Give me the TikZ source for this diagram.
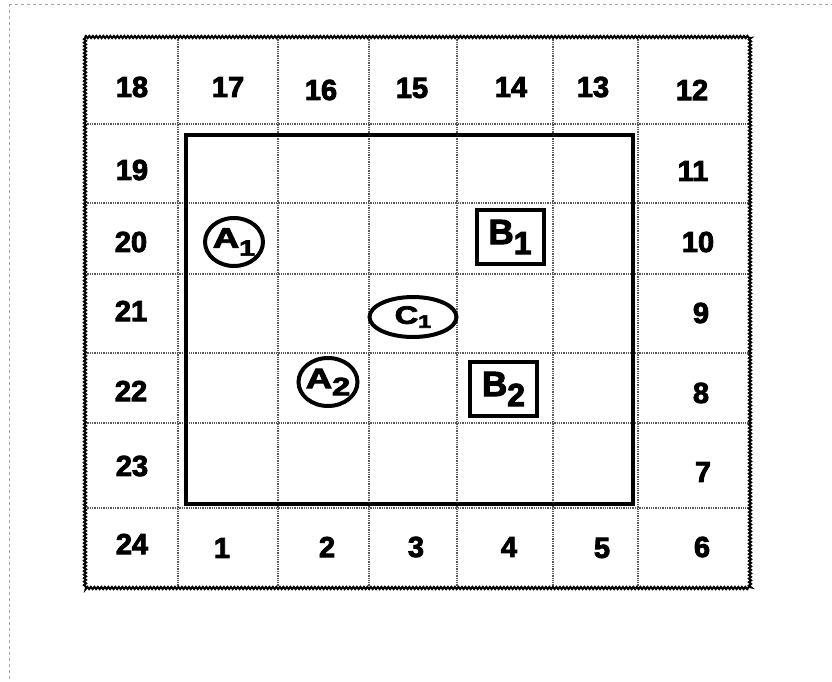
\documentclass[tikz,border=0pt]{standalone}
\usepackage{fontspec}
\setmainfont{Liberation Sans}
\newfontfamily\heavyfont[FakeBold=3]{Liberation Sans Bold}
\usetikzlibrary{decorations.pathmorphing,shapes.geometric}
\newcommand\wideit[1]{\scalebox{1.3}[1]{#1}}
\begin{document}
\begin{tikzpicture}[x=1pt,y=-1pt,
  num/.style={font=\heavyfont\fontsize{29}{30}\selectfont, inner sep=0pt},
  gridline/.style={black!65, densely dotted, line width=1.3pt},
  frameline/.style={black!35, dashed, line width=0.6pt},
  token/.style={draw, line width=4pt, inner sep=0pt},
  toklabel/.style={inner sep=0pt, font=\heavyfont},
  circtok/.style={token, ellipse, minimum width=58pt, minimum height=48pt},
  boxtok/.style={token, rectangle, minimum width=67pt, minimum height=54pt}]
\useasboundingbox (0,0) rectangle (832,681);
\fill[white] (0,0) rectangle (832,681);
% faint frame artefacts
\draw[frameline] (9,4) -- (9,681);
\draw[frameline] (9,4) -- (832,4);
% dotted grid lines
\foreach \xx in {178,278,369,457,553,638}
  \draw[gridline] (\xx,37) -- (\xx,588);
\foreach \yy in {124,203,274,353,423,508}
  \draw[gridline] (85,\yy) -- (750,\yy);
% outer border
\draw[decorate, decoration={zigzag, segment length=3.5pt, amplitude=1.1pt}, line width=2pt]
  (85,37) -- (750,37) -- (750,588) -- (85,588) -- cycle;
% inner thick rectangle
\draw[line width=4pt] (186,135) rectangle (633,504);
% numbers
\node[num] (n18) at (132,87) {18};
\node[num] (n17) at (228,87) {17};
\node[num] (n16) at (321,90) {16};
\node[num] (n15) at (412,88) {15};
\node[num] (n14) at (511,87) {14};
\node[num] (n13) at (593,87) {13};
\node[num] (n12) at (692,90) {12};
\node[num] (n19) at (132,170) {19};
\node[num] (n11) at (693,171) {11};
\node[num] (n20) at (131,242) {20};
\node[num] (n10) at (698,242) {10};
\node[num] (n21) at (131,311) {21};
\node[num] (n9) at (701,313) {9};
\node[num] (n22) at (131,391) {22};
\node[num] (n8) at (701,393) {8};
\node[num] (n23) at (132,466) {23};
\node[num] (n7) at (703,472) {7};
\node[num] (n24) at (132,544) {24};
\node[num] (n1) at (222,548) {1};
\node[num] (n2) at (327,547) {2};
\node[num] (n3) at (416,547) {3};
\node[num] (n4) at (509,547) {4};
\node[num] (n5) at (602,548) {5};
\node[num] (n6) at (702,547) {6};
% tokens: shapes
\node[circtok] (A1) at (234,242) {};
\node[circtok, minimum width=59pt] (A2) at (328,382) {};
\node[token, ellipse, minimum width=87pt, minimum height=40pt] (C1) at (413,317) {};
\node[boxtok] (B1) at (510,237) {};
\node[boxtok] (B2) at (503.5,389) {};
% tokens: labels
\node[toklabel] (A1t) at (A1) {\wideit{\fontsize{28}{28}\selectfont A\raisebox{-8pt}{\fontsize{22}{22}\selectfont 1}}};
\node[toklabel] (A2t) at (A2) {\wideit{\fontsize{28}{28}\selectfont A\raisebox{-7pt}{\fontsize{25}{25}\selectfont 2}}};
\node[toklabel] (C1t) at (C1) {\wideit{\fontsize{25}{25}\selectfont C\raisebox{-4pt}{\fontsize{18}{18}\selectfont 1}}};
\node[toklabel] (B1t) at (B1) {\fontsize{35}{35}\selectfont B\raisebox{-10pt}{\fontsize{32}{32}\selectfont 1}};
\node[toklabel] (B2t) at (B2) {\fontsize{35}{35}\selectfont B\raisebox{-10pt}{\fontsize{32}{32}\selectfont 2}};
\end{tikzpicture}
\end{document}
